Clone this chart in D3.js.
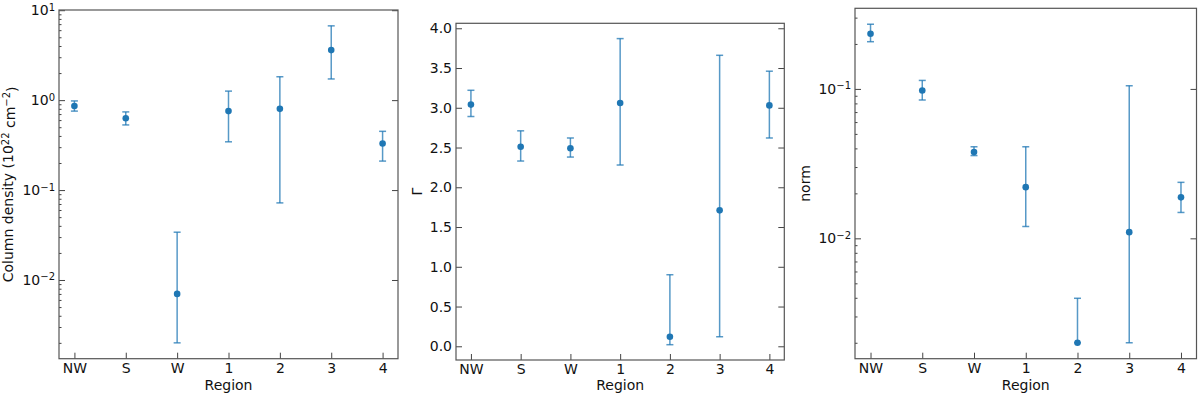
<!DOCTYPE html>
<html>
<head>
<meta charset="utf-8">
<script src="https://cdn.jsdelivr.net/npm/d3@7"></script>
<style>
  body { margin: 0; background: #fff; }
  text { font-family: "DejaVu Sans", sans-serif; fill: #111; }
</style>
</head>
<body>
<div id="chart"></div>
<script>
// data
const regions = ["NW", "S", "W", "1", "2", "3", "4"];

const nH = [0.86, 0.63, 0.0070, 0.755, 0.80, 3.6, 0.33];
const nHHi = [0.98, 0.74, 0.034, 1.26, 1.82, 6.7, 0.45];
const nHLo = [0.755, 0.53, 0.0020, 0.344, 0.072, 1.72, 0.21];

const gamma = [3.04, 2.51, 2.49, 3.06, 0.12, 1.71, 3.03];
const gammaHi = [3.22, 2.71, 2.62, 3.87, 0.90, 3.66, 3.46];
const gammaLo = [2.89, 2.33, 2.38, 2.28, 0.02, 0.12, 2.62];

const norm = [0.234, 0.0975, 0.0378, 0.022, 0.0020, 0.011, 0.0188];
const normHi = [0.271, 0.114, 0.041, 0.041, 0.00397, 0.105, 0.0237];
const normLo = [0.207, 0.0843, 0.0358, 0.012, 0.0020, 0.0020, 0.0149];

const gammaTicks = [0, 0.5, 1, 1.5, 2, 2.5, 3, 3.5, 4];

const svg = d3.select("#chart")
  .append("svg")
  .attr("width", 1200)
  .attr("height", 398);

const panels = [
  { box: [59, 10, 398, 358.7], log: true, v: nH, hi: nHHi, lo: nHLo,
    label: ["Column density (10", "22", " cm", "\u22122", ")"], labelX: 13 },
  { box: [456, 23.3, 784.3, 360], log: false, v: gamma, hi: gammaHi, lo: gammaLo,
    label: ["\u0393"], labelX: 422 },
  { box: [855, 8.3, 1196.5, 358.7], log: true, v: norm, hi: normHi, lo: normLo,
    label: ["norm"], labelX: 810 }
];

const blue = "#1f77b4";
const fs = "14px", sup = "10px";

function supLabel(sel, e) {
  // 10^e with a superscript
  sel.text(null);
  sel.append("tspan").text("10");
  sel.append("tspan")
    .attr("dy", "-0.45em")
    .attr("font-size", sup)
    .text(e < 0 ? "\u2212" + (-e) : String(e));
}

panels.forEach(p => {
  const [x0, y0, x1, y1] = p.box;
  const g = svg.append("g");

  const x = d3.scaleLinear().domain([-0.3, 6.3]).range([x0, x1]);

  let y;
  const lo = d3.min(p.lo), hi = d3.max(p.hi);
  if (p.log) {
    const a = Math.log10(lo), b = Math.log10(hi), m = 0.05 * (b - a);
    y = d3.scaleLog().domain([Math.pow(10, a - m), Math.pow(10, b + m)]).range([y1, y0]);
  } else {
    const m = 0.05 * (hi - lo);
    y = d3.scaleLinear().domain([lo - m, hi + m]).range([y1, y0]);
  }

  // ticks
  let major, minor = [];
  if (p.log) {
    const [d0, d1] = y.domain();
    major = d3.range(Math.ceil(Math.log10(d0)), Math.floor(Math.log10(d1)) + 1);
    for (let e = Math.floor(Math.log10(d0)); e <= Math.ceil(Math.log10(d1)); e++) {
      for (let k = 2; k <= 9; k++) {
        const v = k * Math.pow(10, e);
        if (v >= d0 && v <= d1) minor.push(v);
      }
    }
    major = major.map(e => Math.pow(10, e));
  } else {
    major = gammaTicks;
  }

  const left = g.append("g")
    .attr("transform", `translate(${x0},0)`)
    .call(d3.axisLeft(y).tickValues(major).tickSize(-6).tickPadding(4)
      .tickFormat(p.log ? (d => "") : d3.format(".1f")));
  if (p.log) {
    left.selectAll(".tick text").each(function (d) {
      supLabel(d3.select(this), Math.round(Math.log10(d)));
    });
    g.append("g")
      .attr("transform", `translate(${x0},0)`)
      .call(d3.axisLeft(y).tickValues(minor).tickSize(-2.5).tickFormat(""));
  }

  g.append("g")
    .attr("transform", `translate(${x1},0)`)
    .call(d3.axisRight(y).tickValues(major).tickSize(-6).tickFormat(""));

  g.append("g")
    .attr("transform", `translate(0,${y1})`)
    .call(d3.axisBottom(x).tickValues(d3.range(7)).tickSize(-6).tickPadding(4)
      .tickFormat(i => regions[i]));

  g.selectAll(".domain").remove();
  g.selectAll(".tick line").attr("stroke", "#444").attr("stroke-width", 1);
  g.selectAll(".tick text").attr("font-size", fs).attr("fill", "#111")
    .attr("font-family", "DejaVu Sans, sans-serif");

  // frame
  g.append("rect")
    .attr("x", x0).attr("y", y0)
    .attr("width", x1 - x0).attr("height", y1 - y0)
    .attr("fill", "none").attr("stroke", "#555").attr("stroke-width", 1.2);

  // error bars
  const eb = g.append("g")
    .attr("stroke", blue).attr("stroke-opacity", 0.75).attr("stroke-width", 1.5);
  p.v.forEach((v, i) => {
    const cx = x(i);
    eb.append("line").attr("x1", cx).attr("x2", cx).attr("y1", y(p.lo[i])).attr("y2", y(p.hi[i]));
    [p.lo[i], p.hi[i]].forEach(e => {
      eb.append("line").attr("x1", cx - 3.5).attr("x2", cx + 3.5).attr("y1", y(e)).attr("y2", y(e));
    });
  });

  g.append("g").selectAll("circle")
    .data(p.v)
    .enter()
    .append("circle")
    .attr("cx", (d, i) => x(i))
    .attr("cy", d => y(d))
    .attr("r", 3.3)
    .attr("fill", blue);

  // axis labels
  g.append("text")
    .attr("x", (x0 + x1) / 2).attr("y", 390)
    .attr("text-anchor", "middle").attr("font-size", fs)
    .text("Region");

  const yl = g.append("text")
    .attr("transform", `translate(${p.labelX},${(y0 + y1) / 2}) rotate(-90)`)
    .attr("text-anchor", "middle").attr("font-size", fs);
  if (p.label.length > 1) {
    yl.append("tspan").text(p.label[0]);
    yl.append("tspan").attr("dy", "-0.45em").attr("font-size", sup).text(p.label[1]);
    yl.append("tspan").attr("dy", "0.45em").text(p.label[2]);
    yl.append("tspan").attr("dy", "-0.45em").attr("font-size", sup).text(p.label[3]);
    yl.append("tspan").attr("dy", "0.45em").text(p.label[4]);
  } else {
    yl.text(p.label[0]);
  }
});
</script>
</body>
</html>
